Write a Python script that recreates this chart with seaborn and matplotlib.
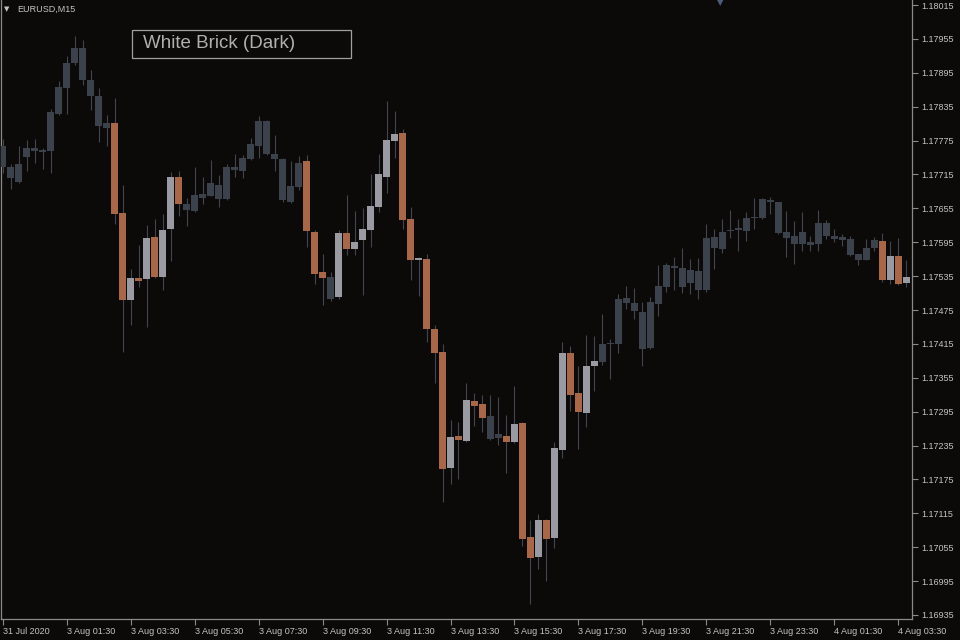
import matplotlib
matplotlib.use("Agg")
import pandas as pd
import matplotlib.pyplot as plt
import seaborn as sns

# EURUSD M15 bars, 31 Jul 2020 -> 4 Aug 2020, prices in points (1e-5)
opens = [117765, 117728, 117702, 117746, 117762, 117755, 117757, 117822, 117868, 117912,
         117939, 117882, 117854, 117797, 117806, 117647, 117493, 117532, 117530, 117604,
         117534, 117618, 117711, 117663, 117650, 117680, 117677, 117696, 117672, 117728,
         117721, 117742, 117765, 117810, 117751, 117742, 117666, 117693, 117739, 117613,
         117542, 117534, 117498, 117611, 117583, 117599, 117617, 117657, 117711, 117774,
         117788, 117636, 117564, 117565, 117442, 117401, 117196, 117252, 117243, 117314,
         117309, 117288, 117249, 117252, 117242, 117275, 117073, 117038, 117103, 117072,
         117227, 117399, 117328, 117293, 117376, 117383, 117414, 117415, 117487, 117487,
         117472, 117408, 117486, 117516, 117550, 117550, 117523, 117544, 117510, 117604,
         117583, 117615, 117617, 117615, 117638, 117638, 117670, 117666, 117613, 117606,
         117592, 117595, 117592, 117629, 117606, 117604, 117601, 117574, 117564, 117585,
         117597, 117528, 117571, 117523]
highs = [117778, 117734, 117765, 117776, 117778, 117762, 117831, 117880, 117925, 117960,
         117953, 117900, 117868, 117820, 117850, 117696, 117548, 117590, 117626, 117636,
         117645, 117719, 117721, 117673, 117728, 117711, 117741, 117714, 117734, 117751,
         117750, 117780, 117818, 117811, 117785, 117744, 117739, 117748, 117750, 117617,
         117574, 117542, 117617, 117679, 117650, 117656, 117716, 117751, 117845, 117827,
         117795, 117657, 117569, 117574, 117449, 117415, 117280, 117277, 117346, 117328,
         117325, 117325, 117321, 117289, 117341, 117277, 117103, 117114, 117105, 117242,
         117418, 117411, 117376, 117431, 117429, 117468, 117424, 117503, 117518, 117514,
         117489, 117498, 117555, 117558, 117569, 117585, 117565, 117567, 117627, 117618,
         117636, 117652, 117636, 117649, 117673, 117673, 117675, 117667, 117650, 117633,
         117649, 117606, 117652, 117634, 117618, 117610, 117606, 117575, 117601, 117604,
         117611, 117597, 117603, 117564]
lows = [117718, 117689, 117700, 117721, 117735, 117725, 117718, 117820, 117822, 117909,
        117873, 117829, 117772, 117765, 117627, 117401, 117449, 117516, 117445, 117532,
        117510, 117562, 117641, 117624, 117649, 117663, 117677, 117657, 117670, 117711,
        117709, 117741, 117744, 117749, 117721, 117666, 117664, 117688, 117587, 117521,
        117484, 117491, 117495, 117572, 117572, 117502, 117587, 117649, 117682, 117744,
        117618, 117528, 117500, 117418, 117346, 117135, 117167, 117176, 117241, 117270,
        117259, 117245, 117236, 117187, 117240, 117057, 116955, 117017, 116995, 117054,
        117213, 117296, 117229, 117268, 117332, 117378, 117353, 117399, 117477, 117459,
        117376, 117406, 117464, 117507, 117510, 117505, 117503, 117495, 117507, 117548,
        117576, 117603, 117580, 117597, 117618, 117637, 117645, 117610, 117569, 117557,
        117580, 117580, 117580, 117601, 117595, 117588, 117571, 117555, 117563, 117580,
        117525, 117521, 117519, 117516]
closes = [117728, 117709, 117734, 117762, 117757, 117758, 117826, 117870, 117912, 117939,
          117882, 117854, 117801, 117806, 117645, 117493, 117532, 117526, 117603, 117534,
          117617, 117711, 117663, 117652, 117679, 117673, 117700, 117672, 117728, 117723,
          117744, 117769, 117810, 117751, 117742, 117670, 117695, 117735, 117615, 117539,
          117532, 117495, 117611, 117583, 117595, 117618, 117659, 117716, 117776, 117787,
          117634, 117564, 117567, 117442, 117399, 117194, 117250, 117245, 117316, 117305,
          117284, 117247, 117256, 117242, 117273, 117070, 117036, 117103, 117070, 117231,
          117399, 117325, 117295, 117376, 117385, 117415, 117417, 117495, 117496, 117473,
          117406, 117489, 117518, 117555, 117553, 117516, 117546, 117510, 117603, 117585,
          117613, 117617, 117620, 117638, 117640, 117672, 117666, 117611, 117603, 117592,
          117613, 117590, 117629, 117606, 117601, 117599, 117572, 117564, 117585, 117599,
          117528, 117571, 117521, 117534]

# brick type per bar: d = plain dark bar, w = white brick, b = brown brick
bricks = ("dddddddddddddd" "bbwbwbwwb" "ddddddddddddddd" "bbbdwbwwwwwwbbwbbbwbwbbddbwbbwbwwbbww"
          "ddddddddddddddddddddddddddddddddddd" "bwbw")

time_labels = ["31 Jul 2020", "3 Aug 01:30", "3 Aug 03:30", "3 Aug 05:30", "3 Aug 07:30",
               "3 Aug 09:30", "3 Aug 11:30", "3 Aug 13:30", "3 Aug 15:30", "3 Aug 17:30",
               "3 Aug 19:30", "3 Aug 21:30", "3 Aug 23:30", "4 Aug 01:30", "4 Aug 03:30"]
price_ticks = [1.16935 + 0.0006 * i for i in range(19)]

df = pd.DataFrame({"open": opens, "high": highs, "low": lows, "close": closes,
                   "brick": list(bricks)})
df[["open", "high", "low", "close"]] /= 1e5

BG = "#0c0a08"
TXT = "#c4c4c4"
body_colors = {"d": "#3c424c", "w": "#9a9aa3", "b": "#a9674a"}
WICK = "#40454f"

sns.set_theme(style="dark", rc={"axes.facecolor": BG, "figure.facecolor": BG})
plt.rcParams["font.family"] = ["Liberation Sans", "DejaVu Sans"]

fig = plt.figure(figsize=(9.6, 6.4), dpi=100)
ax = fig.add_axes([1 / 960, 21 / 640, 911 / 960, 619 / 640])
ax.set_facecolor(BG)

x = df.index.to_numpy()

# wicks
ax.vlines(x, df["low"], df["high"], color=WICK, linewidth=0.8, zorder=2)

# bodies (at least one pixel high)
body_low = df[["open", "close"]].min(axis=1)
body_h = (df["open"] - df["close"]).abs().clip(lower=0.000018)
ax.bar(x, body_h, bottom=body_low, width=0.82,
       color=[body_colors[b] for b in df["brick"]], linewidth=0, zorder=3)

ax.set_xlim(-0.19, 113.69)
ax.set_ylim(1.169279, 1.180239)

# price axis on the right
ax.yaxis.tick_right()
ax.set_yticks(price_ticks)
ax.set_yticklabels([f"{p:.5f}" for p in price_ticks])
ax.tick_params(axis="y", which="both", right=True, length=4, width=0.8, color="#8a8a8a",
               pad=3, labelsize=6.5, labelcolor=TXT)

# time axis
ax.set_xticks(range(0, 114, 8))
ax.set_xticklabels(time_labels, ha="left")
ax.tick_params(axis="x", bottom=True, length=4, width=0.8, color="#8a8a8a",
               pad=2, labelsize=6.5, labelcolor=TXT)

ax.grid(False)
for side in ["left", "bottom", "right"]:
    ax.spines[side].set_visible(True)
    ax.spines[side].set_color("#8a8a8a")
    ax.spines[side].set_linewidth(0.9)
ax.spines["top"].set_visible(False)

# chart caption
fig.text(4 / 960, 1 - 9 / 640, "\u25bc", fontsize=5, color=TXT, va="center", ha="left",
         family="DejaVu Sans")
fig.text(17 / 960, 1 - 9 / 640, "EURUSD,M15", fontsize=6.5, color=TXT, va="center", ha="left")

# shift marker at top
fig.text(720 / 960, 1 - 3 / 640, "\u25bc", fontsize=6, color="#4d5a78", va="center", ha="center",
         family="DejaVu Sans")

# template label box
box = plt.Rectangle((132 / 960, 1 - 58 / 640), 219 / 960, 28 / 640, transform=fig.transFigure,
                    fill=False, edgecolor="#a0a0a0", linewidth=0.9)
fig.patches.append(box)
fig.text(143 / 960, 1 - 44 / 640, "White Brick (Dark)", fontsize=13.5, color="#b0b0b0",
         va="center", ha="left")

fig.savefig("out.png", dpi=100, facecolor=BG)
